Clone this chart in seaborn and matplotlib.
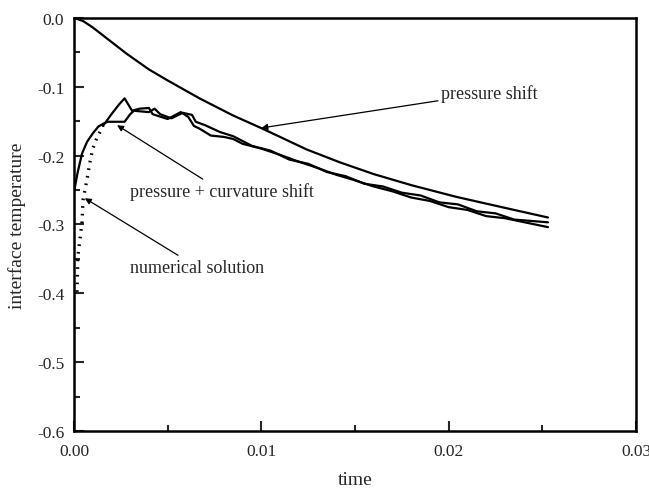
import numpy as np
import pandas as pd
import matplotlib
matplotlib.use("Agg")
import matplotlib.pyplot as plt
import seaborn as sns
from matplotlib.ticker import MultipleLocator

# ---- data ----
ps_t = [0.0, 0.0005, 0.001, 0.0019, 0.0028, 0.0040, 0.0050, 0.0067, 0.0085, 0.0099, 0.0110,
        0.0124, 0.0142, 0.0160, 0.0180, 0.0204, 0.0230, 0.0253]
ps_T = [0.0, -0.005, -0.014, -0.033, -0.052, -0.075, -0.091, -0.117, -0.142, -0.159, -0.173,
        -0.191, -0.210, -0.227, -0.243, -0.260, -0.276, -0.290]

pc_t = [0.0, 0.0002, 0.00043, 0.0007, 0.0010, 0.0013, 0.00155, 0.0018, 0.0027, 0.0030,
        0.0032, 0.0040, 0.0043, 0.0046, 0.0052, 0.0058, 0.0063, 0.0065, 0.0070, 0.0078,
        0.0085, 0.0095, 0.0105, 0.0115, 0.0125, 0.0135, 0.0145, 0.0155, 0.0165, 0.0175,
        0.0185, 0.0195, 0.0205, 0.0215, 0.0225, 0.0235, 0.0253]
pc_T = [-0.253, -0.224, -0.197, -0.180, -0.168, -0.158, -0.154, -0.151, -0.151, -0.140,
        -0.135, -0.137, -0.132, -0.140, -0.146, -0.138, -0.141, -0.151, -0.156, -0.166,
        -0.172, -0.186, -0.193, -0.206, -0.212, -0.224, -0.230, -0.241, -0.245, -0.254,
        -0.258, -0.268, -0.271, -0.281, -0.284, -0.293, -0.297]

ns_t = [0.00016, 0.00021, 0.00032, 0.00043, 0.00048, 0.0007, 0.00085, 0.0010, 0.0012,
        0.00155, 0.0020, 0.0024, 0.0027, 0.0031, 0.0035, 0.0040, 0.0042, 0.0050, 0.0057,
        0.0061, 0.0064, 0.0067, 0.0073, 0.0080, 0.0085, 0.0090, 0.0100, 0.0110, 0.0120,
        0.0130, 0.0140, 0.0150, 0.0160, 0.0170, 0.0180, 0.0190, 0.0200, 0.0210, 0.0220,
        0.0230, 0.0253]
ns_T = [-0.398, -0.346, -0.321, -0.297, -0.265, -0.234, -0.210, -0.190, -0.176,
        -0.157, -0.140, -0.126, -0.117, -0.135, -0.132, -0.131, -0.140, -0.147, -0.137,
        -0.144, -0.157, -0.161, -0.171, -0.173, -0.176, -0.183, -0.190, -0.199, -0.209,
        -0.218, -0.228, -0.236, -0.245, -0.252, -0.261, -0.266, -0.275, -0.279, -0.288,
        -0.291, -0.304]

x_ticks = [0.00, 0.01, 0.02, 0.03]
x_ticklabels = ["0.00", "0.01", "0.02", "0.03"]
y_ticks = [0.0, -0.1, -0.2, -0.3, -0.4, -0.5, -0.6]
y_ticklabels = ["0.0", "-0.1", "-0.2", "-0.3", "-0.4", "-0.5", "-0.6"]

sns.set_style("ticks")
plt.rcParams["font.family"] = ["Liberation Serif", "DejaVu Serif"]

fig = plt.figure(figsize=(6.49, 4.89), dpi=100)
ax = fig.add_axes([0.114, 0.1166, 0.866, 0.845])

lw = 1.6
df_ps = pd.DataFrame({"t": ps_t, "T": ps_T})
df_pc = pd.DataFrame({"t": pc_t, "T": pc_T})
df_ns = pd.DataFrame({"t": ns_t, "T": ns_T})
split = 9
sns.lineplot(data=df_ps, x="t", y="T", ax=ax, color="black", lw=lw, sort=False, estimator=None)
sns.lineplot(data=df_pc, x="t", y="T", ax=ax, color="black", lw=lw, sort=False, estimator=None)
sns.lineplot(data=df_ns.iloc[:split + 1], x="t", y="T", ax=ax, color="black", lw=2.4,
             linestyle=(0, (0.5, 1.8)), sort=False, estimator=None)
sns.lineplot(data=df_ns.iloc[split:], x="t", y="T", ax=ax, color="black", lw=lw,
             sort=False, estimator=None)

ax.set_xlim(0, 0.03)
ax.set_ylim(-0.6, 0.0)
ax.set_xticks(x_ticks)
ax.set_xticklabels(x_ticklabels)
ax.set_yticks(y_ticks)
ax.set_yticklabels(y_ticklabels)
ax.xaxis.set_minor_locator(MultipleLocator(0.005))
ax.yaxis.set_minor_locator(MultipleLocator(0.05))
ax.tick_params(axis="both", which="major", direction="in", length=7, width=1.5,
               labelsize=12.5, top=False, right=False)
ax.tick_params(axis="x", which="major", pad=9)
ax.tick_params(axis="y", which="major", pad=7)
ax.tick_params(axis="both", which="minor", direction="in", length=4, width=1.5,
               top=False, right=False)
for s in ax.spines.values():
    s.set_visible(True)
    s.set_linewidth(1.8)
    s.set_color("black")

ax.set_xlabel("time", fontsize=14, labelpad=8)
ax.set_ylabel("interface temperature", fontsize=14, labelpad=8)

ap = dict(arrowstyle="-|>", color="black", lw=0.9, mutation_scale=9, shrinkA=0, shrinkB=0)
ax.annotate("pressure shift", xy=(0.0100, -0.160), xytext=(0.0196, -0.109),
            fontsize=13, va="center", ha="left", arrowprops=ap)
ax.annotate("pressure + curvature shift", xy=(0.0023, -0.156), xytext=(0.0030, -0.252),
            fontsize=13, va="center", ha="left", arrowprops=ap)
ax.annotate("numerical solution", xy=(0.00058, -0.262), xytext=(0.0030, -0.362),
            fontsize=13, va="center", ha="left", arrowprops=ap)

fig.savefig("out.png", dpi=100)
